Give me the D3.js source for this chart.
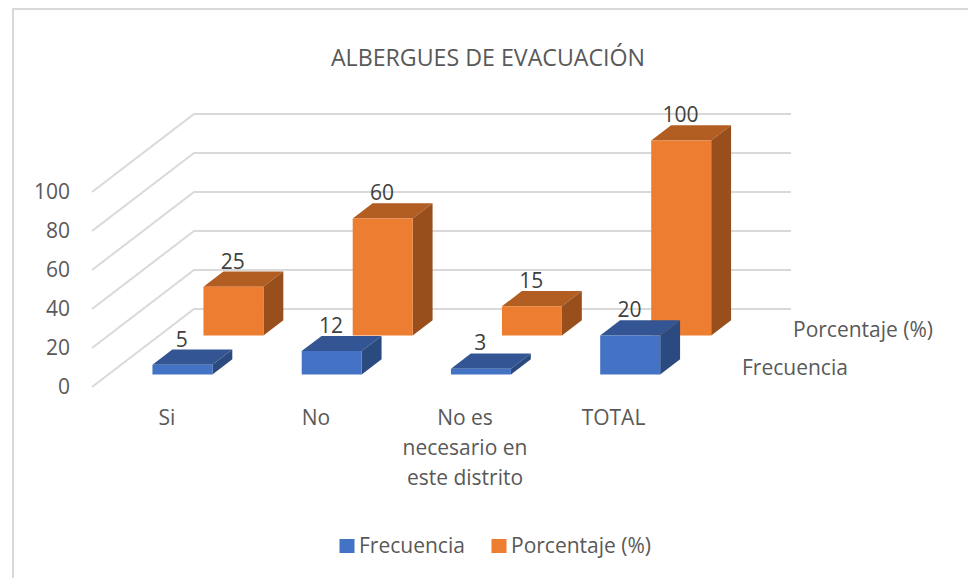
<!DOCTYPE html>
<html><head><meta charset="utf-8">
<script src="https://cdn.jsdelivr.net/npm/d3@7"></script>
<style>html,body{margin:0;padding:0;background:#fff}svg{display:block}text{font-family:"Open Sans",sans-serif}</style>
</head><body><svg id="c" width="968" height="578"></svg>
<script>
const categories = ["Si","No","No es necesario en este distrito","TOTAL"];
const seriesNames = ["Frecuencia","Porcentaje (%)"];
const frecuencia = [5,12,3,20];
const porcentaje = [25,60,15,100];
const yTicks = [0,20,40,60,80,100];
const title = "ALBERGUES DE EVACUACIÓN";

const svg = d3.select("#c");
const origin = {x:92,y:387};
const x = d3.scaleBand().domain(categories).range([0,597]);
const z = d3.scaleBand().domain(seriesNames).range([0,2]);
const y = d3.scaleLinear().domain([0,100]).range([0,195]);
const depth = {dx:51,dy:39};
const P = (u,d,v)=>[origin.x+u+d*depth.dx, origin.y-d*depth.dy-y(v)];
const barW = 60, zIn = 0.32, zOut = 0.71;
const colors = {
  "Frecuencia":{front:"#4472c4",top:"#335593",side:"#2a4a80"},
  "Porcentaje (%)":{front:"#ed7d31",top:"#b25d22",side:"#984f1b"}
};
const line = d3.line();
// chart frame: only the top and left edges are visible in the reference
svg.append("path").attr("d",line([[13,578],[13,9],[968,9]])).attr("fill","none").attr("stroke","#d9d9d9").attr("stroke-width",2);

// gridlines
yTicks.forEach(t=>{
  svg.append("path").attr("d",line([P(0,0,t),P(0,2,t),P(597,2,t)]))
   .attr("fill","none").attr("stroke","#d9d9d9").attr("stroke-width",2);
  const p=P(0,0,t);
  svg.append("text").attr("x",p[0]-22).attr("y",p[1]+1).attr("text-anchor","end")
   .attr("dominant-baseline","middle").attr("font-size",21).attr("fill","#595959").text(t);
});

// bars: back series first
const poly=(pts,fill)=>svg.append("path").attr("d",line(pts)+"Z").attr("fill",fill);
[1,0].forEach(si=>{
  const name=seriesNames[si], vals=si?porcentaje:frecuencia, c=colors[name];
  categories.forEach((cat,i)=>{
    const u0=x(cat)+(x.bandwidth()-barW)/2-0.5, u1=u0+barW, v=vals[i];
    const d0=z(name)+zIn*z.bandwidth(), d1=z(name)+zOut*z.bandwidth();
    poly([P(u0,d0,v),P(u1,d0,v),P(u1,d1,v),P(u0,d1,v)],c.top);
    poly([P(u1,d0,0),P(u1,d1,0),P(u1,d1,v),P(u1,d0,v)],c.side);
    poly([P(u0,d0,0),P(u1,d0,0),P(u1,d0,v),P(u0,d0,v)],c.front);
  });
});
// data labels
[1,0].forEach(si=>{
  const name=seriesNames[si], vals=si?porcentaje:frecuencia;
  categories.forEach((cat,i)=>{
    const u=x(cat)+x.bandwidth()/2, d=z(name)+zOut*z.bandwidth(), p=P(u,d,vals[i]);
    svg.append("text").attr("x",p[0]-21).attr("y",p[1]-3).attr("text-anchor","middle")
      .attr("font-size",21).attr("fill","#404040").text(vals[i]);
  });
});
// category labels
const catLines = {"No es necesario en este distrito":["No es","necesario en","este distrito"]};
categories.forEach(cat=>{
  const ls=catLines[cat]||[cat];
  const cx=cat==="Si"?167:cat==="No"?316:cat==="TOTAL"?613.5:465;
  ls.forEach((l,k)=>svg.append("text").attr("x",cx).attr("y",425+k*30).attr("text-anchor","middle")
    .attr("font-size",21).attr("fill","#595959").text(l));
});
// series labels
svg.append("text").attr("x",793).attr("y",337).attr("font-size",21).attr("fill","#595959").text(seriesNames[1]);
svg.append("text").attr("x",742).attr("y",375).attr("font-size",21).attr("fill","#595959").text(seriesNames[0]);
// title
svg.append("text").attr("x",488).attr("y",66).attr("text-anchor","middle").attr("font-size",23.2).attr("fill","#595959").text(title);
// legend
[[340,359,0],[492,511,1]].forEach(([a,b,i])=>{
  svg.append("rect").attr("x",a-0.5).attr("y",539).attr("width",15).attr("height",14).attr("fill",colors[seriesNames[i]].front);
  svg.append("text").attr("x",b).attr("y",553).attr("font-size",21).attr("fill","#595959").text(seriesNames[i]);
});
</script></body></html>
